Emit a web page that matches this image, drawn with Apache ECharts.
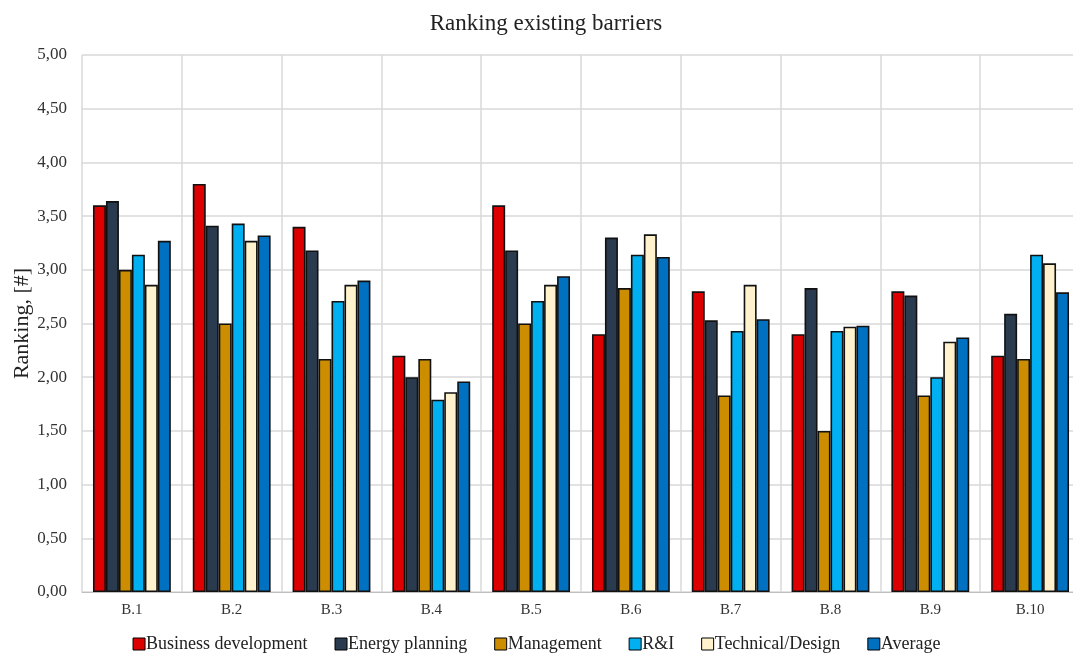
<!DOCTYPE html>
<html>
<head>
<meta charset="utf-8">
<script src="https://cdn.jsdelivr.net/npm/echarts@6/dist/echarts.min.js"></script>
<style>
html,body{margin:0;padding:0;background:#fff;overflow:hidden;}
#chart{width:1073px;height:657px;}
</style>
</head>
<body>
<div id="chart"></div>
<script>
const categories = ['B.1','B.2','B.3','B.4','B.5','B.6','B.7','B.8','B.9','B.10'];
const seriesNames = ['Business development','Energy planning','Management','R&I','Technical/Design','Average'];
const businessDevelopment = [3.60, 3.80, 3.40, 2.20, 3.60, 2.40, 2.80, 2.40, 2.80, 2.20];
const energyPlanning      = [3.64, 3.41, 3.18, 2.00, 3.18, 3.30, 2.53, 2.83, 2.76, 2.59];
const management          = [3.00, 2.50, 2.17, 2.17, 2.50, 2.83, 1.83, 1.50, 1.83, 2.17];
const rAndI               = [3.14, 3.43, 2.71, 1.79, 2.71, 3.14, 2.43, 2.43, 2.00, 3.14];
const technicalDesign     = [2.86, 3.27, 2.86, 1.86, 2.86, 3.33, 2.86, 2.47, 2.33, 3.06];
const average             = [3.27, 3.32, 2.90, 1.96, 2.94, 3.12, 2.54, 2.48, 2.37, 2.79];
const yTickValues = [0,0.5,1,1.5,2,2.5,3,3.5,4,4.5,5];

const colors = ['#DD0000','#2A3A4F','#CC8E00','#00B0F0','#FFF2CC','#0070C0'];
const allData = [businessDevelopment, energyPlanning, management, rAndI, technicalDesign, average];

const font = '"Liberation Serif", "Times New Roman", serif';

const chart = echarts.init(document.getElementById('chart'));
chart.setOption({
  animation: false,
  backgroundColor: '#fff',
  textStyle: { fontFamily: font },
  title: {
    text: 'Ranking existing barriers',
    left: 541,
    textAlign: 'center',
    top: 7,
    textStyle: { fontFamily: font, fontSize: 23, fontWeight: 'normal', color: '#222' }
  },
  legend: {
    data: seriesNames,
    bottom: -1,
    left: 'center',
    itemWidth: 12,
    itemHeight: 12,
    itemGap: 27,
    icon: 'rect',
    itemStyle: { borderColor: '#000', borderWidth: 1 },
    textStyle: { fontFamily: font, fontSize: 18, color: '#222', padding: [0,0,0,-4] }
  },
  grid: { left: 82, width: 998, top: 55, bottom: 65, containLabel: false, outerBoundsMode: 'none' },
  xAxis: {
    type: 'category',
    data: categories,
    boundaryGap: true,
    axisLine: { show: true, lineStyle: { color: '#BFBFBF', width: 1 } },
    axisTick: { show: false },
    axisLabel: { fontFamily: font, fontSize: 15, color: '#333', margin: 11 },
    splitLine: { show: true, lineStyle: { color: '#D9D9D9', width: 1.5 } }
  },
  yAxis: {
    type: 'value',
    min: 0,
    max: 5,
    interval: 0.5,
    name: 'Ranking, [#]',
    nameLocation: 'middle',
    nameGap: 49,
    nameMoveOverlap: false,
    nameRotate: 90,
    nameTextStyle: { fontFamily: font, fontSize: 22, color: '#222' },
    axisLine: { show: false },
    axisTick: { show: false },
    axisLabel: {
      fontFamily: font, fontSize: 17, color: '#333', margin: 15,
      formatter: v => (yTickValues.includes(v) ? v.toFixed(2).replace('.', ',') : '')
    },
    splitLine: { show: true, lineStyle: { color: '#D9D9D9', width: 1.5 } }
  },
  series: seriesNames.map((n, i) => ({
    name: n,
    type: 'bar',
    data: allData[i],
    barGap: '0%',
    barCategoryGap: '22%',
    itemStyle: { color: colors[i], borderColor: '#111', borderWidth: 1.6 }
  }))
});
</script>
</body>
</html>
